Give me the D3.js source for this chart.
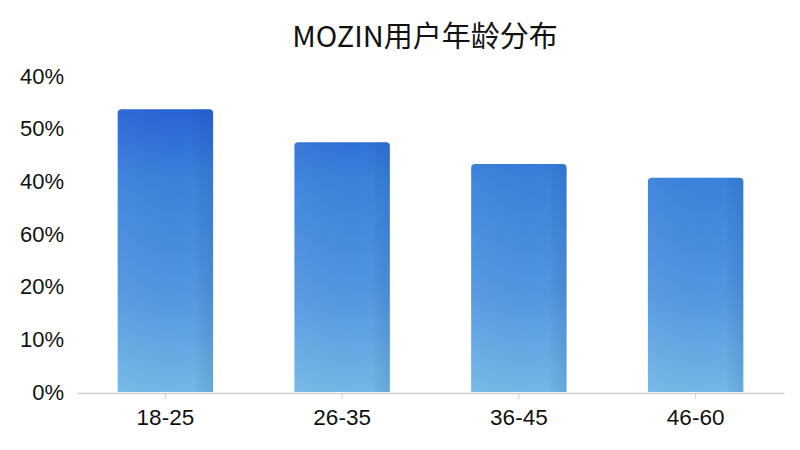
<!DOCTYPE html>
<html>
<head>
<meta charset="utf-8">
<script src="https://cdn.jsdelivr.net/npm/d3@7"></script>
<style>
  body { margin: 0; background: #fff; }
  svg { display: block; }
  text { font-family: "Liberation Sans", Arial, "Noto Sans CJK SC", sans-serif; fill: #111; }
</style>
</head>
<body>
<svg id="chart" width="800" height="450"></svg>
<script>
'use strict';
// values
const ages = ['18-25', '26-35', '36-45', '46-60'];
const shares = [53.7, 47.4, 43.3, 40.7];
const tickValues = [0, 10, 20, 30, 40, 50, 60];
const tickLabels = ['0%', '10%', '20%', '60%', '40%', '50%', '40%'];

const svg = d3.select('#chart');
const x = d3.scaleBand().domain(ages).range([77, 784]).paddingInner(0.46).paddingOuter(0.23);
const y = d3.scaleLinear().domain([0, 60]).range([392, 76]);

const defs = svg.append('defs');
const grad = defs.append('linearGradient')
  .attr('id', 'barFill')
  .attr('gradientUnits', 'userSpaceOnUse')
  .attr('x1', 0).attr('y1', y(54)).attr('x2', 0).attr('y2', y(0));
grad.append('stop').attr('offset', '0%').attr('stop-color', '#2762d4');
grad.append('stop').attr('offset', '25%').attr('stop-color', '#3a82dc');
grad.append('stop').attr('offset', '65%').attr('stop-color', '#5197e0');
grad.append('stop').attr('offset', '100%').attr('stop-color', '#72b8e8');

const shade = defs.append('linearGradient')
  .attr('id', 'barShade')
  .attr('x1', 0).attr('y1', 0).attr('x2', 1).attr('y2', 0);
shade.append('stop').attr('offset', '0%').attr('stop-color', '#fff').attr('stop-opacity', 0.04);
shade.append('stop').attr('offset', '80%').attr('stop-color', '#000').attr('stop-opacity', 0);
shade.append('stop').attr('offset', '100%').attr('stop-color', '#0a3a80').attr('stop-opacity', 0.12);

// title
svg.append('text')
  .attr('x', 425).attr('y', 47)
  .attr('text-anchor', 'middle')
  .style('font-family', '"Noto Sans CJK SC", "Liberation Sans", sans-serif')
  .style('font-size', '29px')
  .text('MOZIN用户年龄分布');

// bars, rounded top corners only
const r = 4;
const barPath = (d, i) => {
  const x0 = x(ages[i]), x1 = x0 + x.bandwidth();
  const yt = y(d), yb = y(0);
  return `M${x0},${yb}V${yt + r}Q${x0},${yt} ${x0 + r},${yt}H${x1 - r}Q${x1},${yt} ${x1},${yt + r}V${yb}Z`;
};
const bars = svg.append('g');
bars.selectAll('path.bar')
  .data(shares)
  .join('path')
  .attr('class', 'bar')
  .attr('d', barPath)
  .attr('fill', 'url(#barFill)');
bars.selectAll('path.shade')
  .data(shares)
  .join('path')
  .attr('class', 'shade')
  .attr('d', barPath)
  .attr('fill', 'url(#barShade)');

// x axis
const xAxis = svg.append('g')
  .attr('transform', `translate(0,${y(0) + 1})`)
  .call(d3.axisBottom(x).tickSize(6).tickSizeOuter(0).tickPadding(10));
xAxis.select('.domain').attr('stroke', '#cfcfcf').attr('stroke-width', 1.5);
xAxis.selectAll('.tick line').attr('stroke', '#cfcfcf');
xAxis.selectAll('.tick text').style('font-size', '22.5px').attr('fill', '#111');

// y axis labels only
const yAxis = svg.append('g')
  .attr('transform', 'translate(64,0)')
  .call(d3.axisLeft(y).tickValues(tickValues).tickFormat((d, i) => tickLabels[i]).tickSize(0).tickPadding(0));
yAxis.select('.domain').remove();
yAxis.selectAll('.tick text').style('font-size', '22px').attr('fill', '#111');
</script>
</body>
</html>
